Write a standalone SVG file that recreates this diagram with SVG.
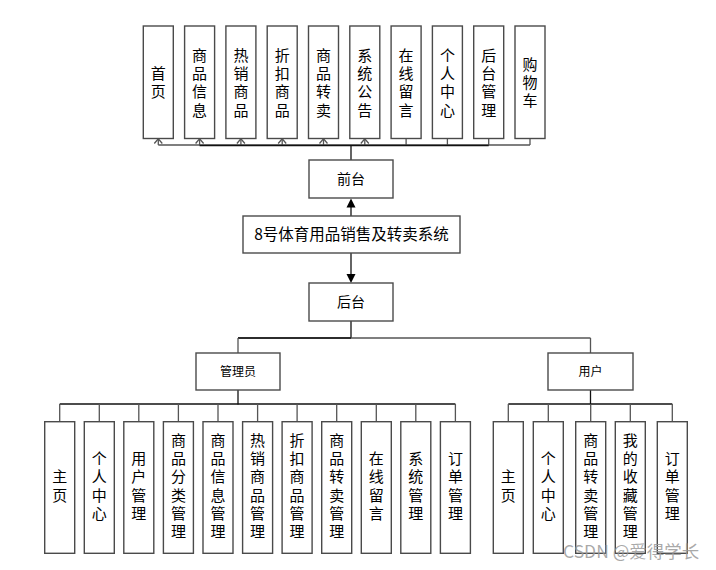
<svg xmlns="http://www.w3.org/2000/svg" width="716" height="570" viewBox="0 0 716 570">
<defs>
<style>
.box{fill:#fff;stroke:#4a4a4a;stroke-width:1.4}
.ln{fill:none;stroke:#111;stroke-width:1.3}
.gl{fill:none;stroke:#555;stroke-width:1.3}
text{font-family:"Noto Sans CJK SC","Liberation Sans",sans-serif;fill:#000}
.v{font-size:15px;text-anchor:middle}
.h{text-anchor:middle}
</style>
</defs>
<rect width="716" height="570" fill="#fff"/>

<g id="connectors">
  <path class="gl" d="M158.3,145 H530"/>
  <path class="gl" d="M158.3,138.5 V145 M199.6,138.5 V145 M240.9,138.5 V145 M282.2,138.5 V145 M323.5,138.5 V145 M364.8,138.5 V145 M406.1,138.5 V145 M447.4,138.5 V145 M488.7,138.5 V145 M530,138.5 V145"/>
  <path class="gl" d="M154.3,143.5 L158.3,138.8 L162.3,143.5 M195.6,143.5 L199.6,138.8 L203.6,143.5 M236.9,143.5 L240.9,138.8 L244.9,143.5 M278.2,143.5 L282.2,138.8 L286.2,143.5 M319.5,143.5 L323.5,138.8 L327.5,143.5 M360.8,143.5 L364.8,138.8 L368.8,143.5"/>
  <path class="ln" d="M199.6,145.5 H488.7"/>
  <path class="ln" d="M351,145 V160"/>
  <path class="ln" d="M351,216 V206"/>
  <polygon points="351,198.5 346.5,207.5 355.5,207.5" fill="#000"/>
  <path class="ln" d="M351,253 V274"/>
  <polygon points="351,283 346.5,274 355.5,274" fill="#000"/>
  <path class="ln" d="M351,321 V338"/>
  <path class="gl" d="M238,338 H590.5"/>
  <path class="ln" d="M238,338 H351"/>
  <path class="gl" d="M238,338 V353 M590.5,338 V353"/>
  <path class="ln" d="M238,390 V404.5"/>
  <path class="ln" d="M59.7,404 H455.4"/>
  <path class="gl" d="M59.7,404 V421.7 M99.3,404 V421.7 M138.8,404 V421.7 M178.4,404 V421.7 M218,404 V421.7 M257.6,404 V421.7 M297.1,404 V421.7 M336.7,404 V421.7 M376.3,404 V421.7 M415.8,404 V421.7 M455.4,404 V421.7"/>
  <path class="ln" d="M590.5,390 V404.5"/>
  <path class="ln" d="M508.3,404 H672.3"/>
  <path class="gl" d="M508.3,404 V421.7 M548.3,404 V421.7 M590.7,404 V421.7 M630.3,404 V421.7 M672.3,404 V421.7"/>
</g>

<g id="t1"><rect class="box" x="143.3" y="26" width="30" height="112.5"/><text class="v"><tspan x="158.3" y="78.9">首</tspan><tspan x="158.3" y="97.2">页</tspan></text></g>
<g id="t2"><rect class="box" x="184.6" y="26" width="30" height="112.5"/><text class="v"><tspan x="199.6" y="60.6">商</tspan><tspan x="199.6" y="78.9">品</tspan><tspan x="199.6" y="97.2">信</tspan><tspan x="199.6" y="115.5">息</tspan></text></g>
<g id="t3"><rect class="box" x="225.9" y="26" width="30" height="112.5"/><text class="v"><tspan x="240.9" y="60.6">热</tspan><tspan x="240.9" y="78.9">销</tspan><tspan x="240.9" y="97.2">商</tspan><tspan x="240.9" y="115.5">品</tspan></text></g>
<g id="t4"><rect class="box" x="267.2" y="26" width="30" height="112.5"/><text class="v"><tspan x="282.2" y="60.6">折</tspan><tspan x="282.2" y="78.9">扣</tspan><tspan x="282.2" y="97.2">商</tspan><tspan x="282.2" y="115.5">品</tspan></text></g>
<g id="t5"><rect class="box" x="308.5" y="26" width="30" height="112.5"/><text class="v"><tspan x="323.5" y="60.6">商</tspan><tspan x="323.5" y="78.9">品</tspan><tspan x="323.5" y="97.2">转</tspan><tspan x="323.5" y="115.5">卖</tspan></text></g>
<g id="t6"><rect class="box" x="349.8" y="26" width="30" height="112.5"/><text class="v"><tspan x="364.8" y="60.6">系</tspan><tspan x="364.8" y="78.9">统</tspan><tspan x="364.8" y="97.2">公</tspan><tspan x="364.8" y="115.5">告</tspan></text></g>
<g id="t7"><rect class="box" x="391.1" y="26" width="30" height="112.5"/><text class="v"><tspan x="406.1" y="60.6">在</tspan><tspan x="406.1" y="78.9">线</tspan><tspan x="406.1" y="97.2">留</tspan><tspan x="406.1" y="115.5">言</tspan></text></g>
<g id="t8"><rect class="box" x="432.4" y="26" width="30" height="112.5"/><text class="v"><tspan x="447.4" y="60.6">个</tspan><tspan x="447.4" y="78.9">人</tspan><tspan x="447.4" y="97.2">中</tspan><tspan x="447.4" y="115.5">心</tspan></text></g>
<g id="t9"><rect class="box" x="473.7" y="26" width="30" height="112.5"/><text class="v"><tspan x="488.7" y="60.6">后</tspan><tspan x="488.7" y="78.9">台</tspan><tspan x="488.7" y="97.2">管</tspan><tspan x="488.7" y="115.5">理</tspan></text></g>
<g id="t10"><rect class="box" x="515" y="26" width="30" height="112.5"/><text class="v"><tspan x="530" y="69.7">购</tspan><tspan x="530" y="88">物</tspan><tspan x="530" y="106.3">车</tspan></text></g>

<g id="qiantai"><rect class="box" x="309" y="160" width="84" height="38"/><text class="h" x="351" y="184" font-size="14">前台</text></g>
<g id="system"><rect class="box" x="243" y="216" width="217" height="37"/><text class="h" x="351.5" y="240" font-size="15.5">8号体育用品销售及转卖系统</text></g>
<g id="houtai"><rect class="box" x="309" y="283" width="84" height="38"/><text class="h" x="351" y="307" font-size="14">后台</text></g>
<g id="admin"><rect class="box" x="196" y="353" width="84" height="37"/><text class="h" x="238" y="376" font-size="12">管理员</text></g>
<g id="user"><rect class="box" x="548" y="353" width="85" height="37"/><text class="h" x="590.5" y="376" font-size="12">用户</text></g>

<g id="a1"><rect class="box" x="44.7" y="421.7" width="30" height="131.6"/><text class="v"><tspan x="59.7" y="482.4">主</tspan><tspan x="59.7" y="500.7">页</tspan></text></g>
<g id="a2"><rect class="box" x="84.3" y="421.7" width="30" height="131.6"/><text class="v"><tspan x="99.3" y="464.1">个</tspan><tspan x="99.3" y="482.4">人</tspan><tspan x="99.3" y="500.7">中</tspan><tspan x="99.3" y="519">心</tspan></text></g>
<g id="a3"><rect class="box" x="123.8" y="421.7" width="30" height="131.6"/><text class="v"><tspan x="138.8" y="464.1">用</tspan><tspan x="138.8" y="482.4">户</tspan><tspan x="138.8" y="500.7">管</tspan><tspan x="138.8" y="519">理</tspan></text></g>
<g id="a4"><rect class="box" x="163.4" y="421.7" width="30" height="131.6"/><text class="v"><tspan x="178.4" y="445.8">商</tspan><tspan x="178.4" y="464.1">品</tspan><tspan x="178.4" y="482.4">分</tspan><tspan x="178.4" y="500.7">类</tspan><tspan x="178.4" y="519">管</tspan><tspan x="178.4" y="537.3">理</tspan></text></g>
<g id="a5"><rect class="box" x="203" y="421.7" width="30" height="131.6"/><text class="v"><tspan x="218" y="445.8">商</tspan><tspan x="218" y="464.1">品</tspan><tspan x="218" y="482.4">信</tspan><tspan x="218" y="500.7">息</tspan><tspan x="218" y="519">管</tspan><tspan x="218" y="537.3">理</tspan></text></g>
<g id="a6"><rect class="box" x="242.6" y="421.7" width="30" height="131.6"/><text class="v"><tspan x="257.6" y="445.8">热</tspan><tspan x="257.6" y="464.1">销</tspan><tspan x="257.6" y="482.4">商</tspan><tspan x="257.6" y="500.7">品</tspan><tspan x="257.6" y="519">管</tspan><tspan x="257.6" y="537.3">理</tspan></text></g>
<g id="a7"><rect class="box" x="282.1" y="421.7" width="30" height="131.6"/><text class="v"><tspan x="297.1" y="445.8">折</tspan><tspan x="297.1" y="464.1">扣</tspan><tspan x="297.1" y="482.4">商</tspan><tspan x="297.1" y="500.7">品</tspan><tspan x="297.1" y="519">管</tspan><tspan x="297.1" y="537.3">理</tspan></text></g>
<g id="a8"><rect class="box" x="321.7" y="421.7" width="30" height="131.6"/><text class="v"><tspan x="336.7" y="445.8">商</tspan><tspan x="336.7" y="464.1">品</tspan><tspan x="336.7" y="482.4">转</tspan><tspan x="336.7" y="500.7">卖</tspan><tspan x="336.7" y="519">管</tspan><tspan x="336.7" y="537.3">理</tspan></text></g>
<g id="a9"><rect class="box" x="361.3" y="421.7" width="30" height="131.6"/><text class="v"><tspan x="376.3" y="464.1">在</tspan><tspan x="376.3" y="482.4">线</tspan><tspan x="376.3" y="500.7">留</tspan><tspan x="376.3" y="519">言</tspan></text></g>
<g id="a10"><rect class="box" x="400.8" y="421.7" width="30" height="131.6"/><text class="v"><tspan x="415.8" y="464.1">系</tspan><tspan x="415.8" y="482.4">统</tspan><tspan x="415.8" y="500.7">管</tspan><tspan x="415.8" y="519">理</tspan></text></g>
<g id="a11"><rect class="box" x="440.4" y="421.7" width="30" height="131.6"/><text class="v"><tspan x="455.4" y="464.1">订</tspan><tspan x="455.4" y="482.4">单</tspan><tspan x="455.4" y="500.7">管</tspan><tspan x="455.4" y="519">理</tspan></text></g>

<g id="u1"><rect class="box" x="493.3" y="421.7" width="30" height="131.6"/><text class="v"><tspan x="508.3" y="482.4">主</tspan><tspan x="508.3" y="500.7">页</tspan></text></g>
<g id="u2"><rect class="box" x="533.3" y="421.7" width="30" height="131.6"/><text class="v"><tspan x="548.3" y="464.1">个</tspan><tspan x="548.3" y="482.4">人</tspan><tspan x="548.3" y="500.7">中</tspan><tspan x="548.3" y="519">心</tspan></text></g>
<g id="u3"><rect class="box" x="575.7" y="421.7" width="30" height="131.6"/><text class="v"><tspan x="590.7" y="445.8">商</tspan><tspan x="590.7" y="464.1">品</tspan><tspan x="590.7" y="482.4">转</tspan><tspan x="590.7" y="500.7">卖</tspan><tspan x="590.7" y="519">管</tspan><tspan x="590.7" y="537.3">理</tspan></text></g>
<g id="u4"><rect class="box" x="615.3" y="421.7" width="30" height="131.6"/><text class="v"><tspan x="630.3" y="445.8">我</tspan><tspan x="630.3" y="464.1">的</tspan><tspan x="630.3" y="482.4">收</tspan><tspan x="630.3" y="500.7">藏</tspan><tspan x="630.3" y="519">管</tspan><tspan x="630.3" y="537.3">理</tspan></text></g>
<g id="u5"><rect class="box" x="657.3" y="421.7" width="30" height="131.6"/><text class="v"><tspan x="672.3" y="464.1">订</tspan><tspan x="672.3" y="482.4">单</tspan><tspan x="672.3" y="500.7">管</tspan><tspan x="672.3" y="519">理</tspan></text></g>

<text x="563" y="557.5" font-size="17.5" style="fill:#9a9a9a" fill-opacity="0.85">CSDN @爱得学长</text>
</svg>
